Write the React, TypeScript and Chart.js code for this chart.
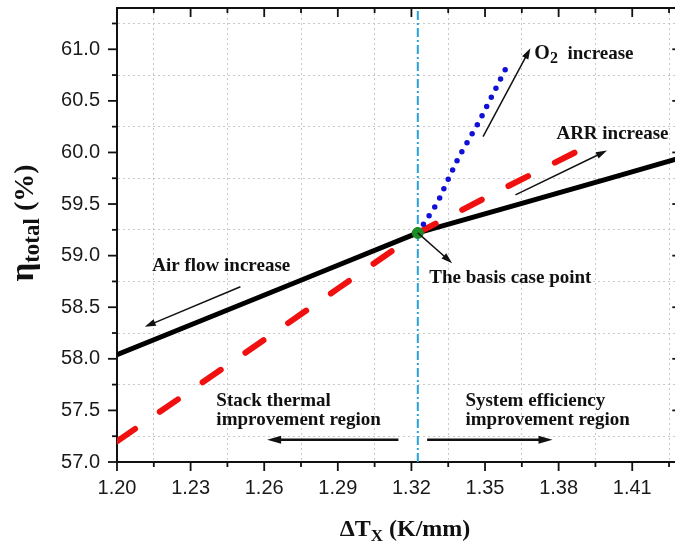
import React, { useEffect, useRef } from "react";
import { Chart, registerables } from "chart.js";

Chart.register(...registerables);

// ---- axis ranges and ticks ----
const X_MIN = 1.2;
const X_MAX = 1.43;
const Y_MIN = 57.0;
const Y_MAX = 61.4;

const xMajorTicks = [1.2, 1.23, 1.26, 1.29, 1.32, 1.35, 1.38, 1.41];
const xMinorTicks = [1.215, 1.245, 1.275, 1.305, 1.335, 1.365, 1.395, 1.425];
const yMajorTicks = [57.0, 57.5, 58.0, 58.5, 59.0, 59.5, 60.0, 60.5, 61.0];
const yMinorTicks = [57.25, 57.75, 58.25, 58.75, 59.25, 59.75, 60.25, 60.75, 61.25];

// ---- series ----
const airFlowX = [1.2, 1.24, 1.28, 1.3226, 1.36, 1.4, 1.43];
const airFlowY = [58.04, 58.425, 58.81, 59.22, 59.473, 59.744, 59.95];

const arrX = [1.2, 1.25, 1.29, 1.3226, 1.355, 1.3875];
const arrY = [57.2, 58.02, 58.68, 59.22, 59.62, 60.01];

const o2X = [1.3226, 1.3306, 1.334, 1.3394, 1.3474, 1.3586];
const o2Y = [59.22, 59.51, 59.69, 59.96, 60.29, 60.82];

const basisX = [1.3226];
const basisY = [59.22];

const dividerX = [1.3226, 1.3226];
const dividerY = [57.0, 61.4];

// ---- annotations (data coordinates) ----
const noteTexts = [
  "Air flow increase",
  "The basis case point",
  "ARR increase",
  "Stack thermal",
  "improvement region",
  "System efficiency",
  "improvement region",
];
const noteX = [1.2144, 1.3273, 1.3791, 1.2405, 1.2405, 1.342, 1.342];
const noteY = [58.896, 58.785, 60.18, 57.587, 57.403, 57.587, 57.403];

const o2NoteX = 1.3701;
const o2NoteY = 60.955;

// arrows: from (x1, y1) to (x2, y2), head at (x2, y2)
const arrowFromX = [1.2503, 1.3492, 1.3624, 1.3226, 1.3147, 1.3264];
const arrowFromY = [58.698, 60.153, 59.589, 59.22, 57.216, 57.216];
const arrowToX = [1.2113, 1.3685, 1.3997, 1.3366, 1.2612, 1.3775];
const arrowToY = [58.31, 61.01, 60.018, 58.927, 57.216, 57.216];
const arrowHeavy = [false, false, false, false, true, true];

const SERIF = '"Liberation Serif", "Times New Roman", serif';
const SANS = '"Liberation Sans", Arial, sans-serif';

const near = (a: number, list: number[]) => list.some((v) => Math.abs(v - a) < 1e-6);

type Run = { text: string; font: string; dy?: number };
function drawRuns(ctx: CanvasRenderingContext2D, runs: Run[], x: number, y: number, align: "left" | "center") {
  let total = 0;
  runs.forEach((r) => {
    ctx.font = r.font;
    total += ctx.measureText(r.text).width;
  });
  let cx = align === "center" ? x - total / 2 : x;
  ctx.textAlign = "left";
  runs.forEach((r) => {
    ctx.font = r.font;
    ctx.fillText(r.text, cx, y + (r.dy || 0));
    cx += ctx.measureText(r.text).width;
  });
}

function drawArrow(ctx: CanvasRenderingContext2D, x1: number, y1: number, x2: number, y2: number, heavy: boolean) {
  const lw = heavy ? 2.6 : 1.5;
  const hl = heavy ? 14 : 11;
  const hw = heavy ? 4 : 3.5;
  const ang = Math.atan2(y2 - y1, x2 - x1);
  const bx = x2 - hl * Math.cos(ang);
  const by = y2 - hl * Math.sin(ang);
  ctx.strokeStyle = "#111";
  ctx.fillStyle = "#111";
  ctx.lineWidth = lw;
  ctx.beginPath();
  ctx.moveTo(x1, y1);
  ctx.lineTo(bx + 2 * Math.cos(ang), by + 2 * Math.sin(ang));
  ctx.stroke();
  ctx.beginPath();
  ctx.moveTo(x2, y2);
  ctx.lineTo(bx + hw * Math.sin(ang), by - hw * Math.cos(ang));
  ctx.lineTo(bx - hw * Math.sin(ang), by + hw * Math.cos(ang));
  ctx.closePath();
  ctx.fill();
}

const decorPlugin = {
  id: "decor",
  afterDraw(chart: any) {
    const { ctx, chartArea: a, scales } = chart;
    const xs = scales.x;
    const ys = scales.y;
    ctx.save();
    // frame (top and right)
    ctx.strokeStyle = "#111";
    ctx.lineWidth = 2;
    ctx.beginPath();
    ctx.moveTo(a.left, a.top);
    ctx.lineTo(a.right, a.top);
    ctx.lineTo(a.right, a.bottom);
    ctx.stroke();

    // tick marks
    ctx.lineWidth = 1.8;
    const seg = (x1: number, y1: number, x2: number, y2: number) => {
      ctx.beginPath();
      ctx.moveTo(x1, y1);
      ctx.lineTo(x2, y2);
      ctx.stroke();
    };
    xMajorTicks.forEach((v) => {
      const p = xs.getPixelForValue(v);
      seg(p, a.bottom, p, a.bottom + 9);
      seg(p, a.top, p, a.top + 9);
    });
    xMinorTicks.forEach((v) => {
      const p = xs.getPixelForValue(v);
      seg(p, a.bottom, p, a.bottom + 5);
      seg(p, a.top, p, a.top + 5);
    });
    yMajorTicks.forEach((v) => {
      const p = ys.getPixelForValue(v);
      seg(a.left - 9, p, a.left, p);
      seg(a.right - 9, p, a.right, p);
    });
    yMinorTicks.forEach((v) => {
      const p = ys.getPixelForValue(v);
      seg(a.left - 5, p, a.left, p);
      seg(a.right - 5, p, a.right, p);
    });

    // arrows
    arrowFromX.forEach((_, i) => {
      drawArrow(
        ctx,
        xs.getPixelForValue(arrowFromX[i]),
        ys.getPixelForValue(arrowFromY[i]),
        xs.getPixelForValue(arrowToX[i]),
        ys.getPixelForValue(arrowToY[i]),
        arrowHeavy[i]
      );
    });

    // annotation texts
    ctx.fillStyle = "#111";
    ctx.textBaseline = "middle";
    noteTexts.forEach((t, i) => {
      ctx.font = `bold 19px ${SERIF}`;
      ctx.textAlign = "left";
      ctx.fillText(t, xs.getPixelForValue(noteX[i]), ys.getPixelForValue(noteY[i]));
    });
    drawRuns(
      ctx,
      [
        { text: "O", font: `bold 20px ${SERIF}` },
        { text: "2", font: `bold 16px ${SERIF}`, dy: 5 },
        { text: "  increase", font: `bold 19px ${SERIF}` },
      ],
      xs.getPixelForValue(o2NoteX),
      ys.getPixelForValue(o2NoteY),
      "left"
    );

    // axis titles
    ctx.textBaseline = "alphabetic";
    drawRuns(
      ctx,
      [
        { text: "ΔT", font: `bold 24px ${SERIF}` },
        { text: "X", font: `bold 17px ${SERIF}`, dy: 5 },
        { text: " (K/mm)", font: `bold 24px ${SERIF}` },
      ],
      405,
      536,
      "center"
    );
    ctx.save();
    ctx.translate(33, 223);
    ctx.rotate(-Math.PI / 2);
    drawRuns(
      ctx,
      [
        { text: "η", font: `bold 33px ${SERIF}` },
        { text: "total", font: `bold 23px ${SERIF}`, dy: 6 },
        { text: " (%)", font: `bold 28px ${SERIF}` },
      ],
      0,
      0,
      "center"
    );
    ctx.restore();
    ctx.restore();
  },
};

const pts = (xs: number[], ys: number[]) => xs.map((x, i) => ({ x, y: ys[i] }));

export default function App() {
  const ref = useRef<HTMLCanvasElement | null>(null);

  useEffect(() => {
    if (!ref.current) return;
    const xTicks = [...xMajorTicks, ...xMinorTicks].sort((a, b) => a - b);
    const yTicks = [...yMajorTicks, ...yMinorTicks].sort((a, b) => a - b);
    const gridColor = (list: number[]) => (c: any) =>
      c.tick && near(c.tick.value, list) ? "rgba(195,195,195,0.9)" : "rgba(0,0,0,0)";

    const chart = new Chart(ref.current, {
      type: "line",
      data: {
        datasets: [
          {
            label: "basis",
            data: pts(basisX, basisY),
            showLine: false,
            pointRadius: 5.5,
            pointBackgroundColor: "#1c8c24",
            pointBorderColor: "#1c8c24",
            order: 0,
          },
          {
            label: "O2",
            data: pts(o2X, o2Y),
            borderColor: "#1010d8",
            borderWidth: 5.5,
            borderDash: [0, 10.3],
            borderCapStyle: "round",
            pointRadius: 0,
            tension: 0,
            order: 1,
          },
          {
            label: "ARR",
            data: pts(arrX, arrY),
            borderColor: "#f01010",
            borderWidth: 6,
            borderDash: [22, 30],
            borderCapStyle: "round",
            pointRadius: 0,
            tension: 0,
            order: 2,
          },
          {
            label: "Air flow",
            data: pts(airFlowX, airFlowY),
            borderColor: "#000000",
            borderWidth: 5,
            borderJoinStyle: "round",
            pointRadius: 0,
            tension: 0,
            order: 3,
          },
          {
            label: "divider",
            data: pts(dividerX, dividerY),
            borderColor: "#2aa0d8",
            borderWidth: 2,
            borderDash: [9, 3, 2, 3],
            pointRadius: 0,
            order: 4,
          },
        ],
      },
      options: {
        responsive: false,
        animation: false,
        devicePixelRatio: 1,
        layout: { padding: { left: 0, top: 8, right: 8.7, bottom: 0 } },
        plugins: {
          legend: { display: false },
          tooltip: { enabled: false },
          title: { display: false },
        },
        scales: {
          x: {
            type: "linear",
            min: X_MIN,
            max: X_MAX,
            afterBuildTicks: (s: any) => {
              s.ticks = xTicks.map((v) => ({ value: v }));
            },
            afterFit: (s: any) => {
              s.height = 85;
              s.paddingLeft = 0;
              s.paddingRight = 0;
            },
            ticks: {
              autoSkip: false,
              maxRotation: 0,
              minRotation: 0,
              padding: 5,
              color: "#1a1a1a",
              font: { family: SANS, size: 20 },
              callback: (v: any) => (near(Number(v), xMajorTicks) ? Number(v).toFixed(2) : ""),
            },
            grid: {
              color: gridColor(xMinorTicks),
              lineWidth: 1,
              drawTicks: true,
              tickLength: 9,
              tickColor: "rgba(0,0,0,0)",
            },
            border: { display: true, color: "#111", width: 2, dash: [2, 3] },
          },
          y: {
            type: "linear",
            min: Y_MIN,
            max: Y_MAX,
            afterBuildTicks: (s: any) => {
              s.ticks = yTicks.map((v) => ({ value: v }));
            },
            afterFit: (s: any) => {
              s.width = 117;
              s.paddingTop = 0;
              s.paddingBottom = 0;
            },
            ticks: {
              autoSkip: false,
              padding: 8,
              color: "#1a1a1a",
              font: { family: SANS, size: 20 },
              callback: (v: any) => (near(Number(v), yMajorTicks) ? Number(v).toFixed(1) : ""),
            },
            grid: {
              color: gridColor(yMinorTicks),
              lineWidth: 1,
              drawTicks: true,
              tickLength: 9,
              tickColor: "rgba(0,0,0,0)",
            },
            border: { display: true, color: "#111", width: 2, dash: [2, 3] },
          },
        },
      },
      plugins: [decorPlugin],
    } as any);
    return () => chart.destroy();
  }, []);

  return (
    <div
      style={{
        position: "fixed",
        left: 0,
        top: 0,
        width: 675,
        height: 547,
        overflow: "hidden",
        background: "#fff",
      }}
    >
      <canvas ref={ref} width={690} height={547} style={{ display: "block", width: 690, height: 547 }} />
    </div>
  );
}
